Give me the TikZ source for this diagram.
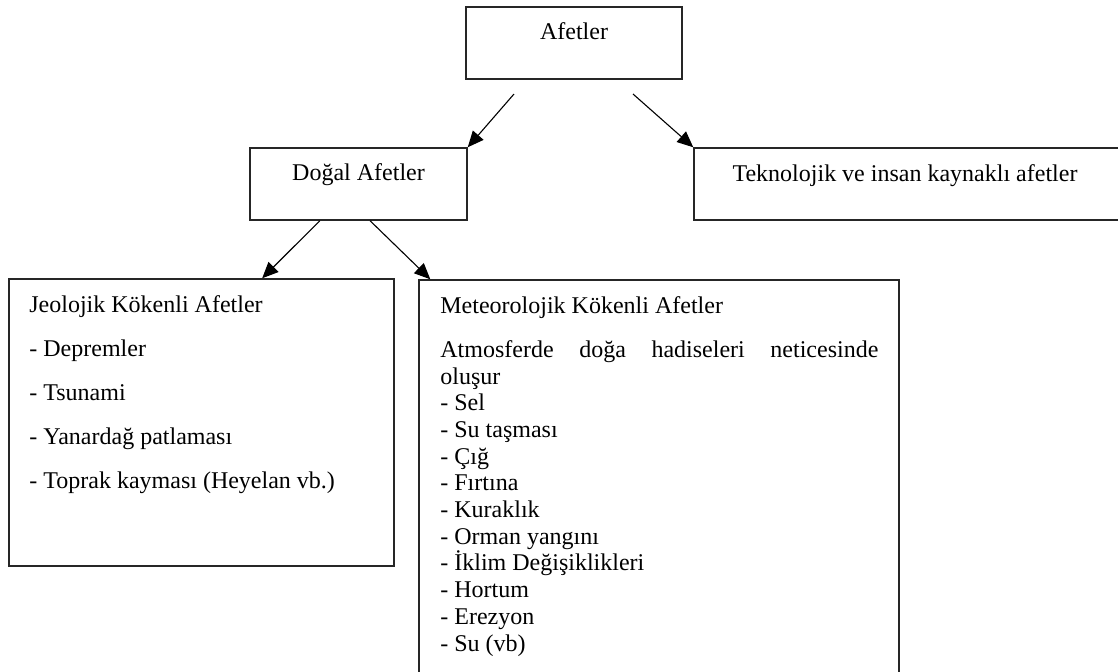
\documentclass[tikz,border=0pt]{standalone}
\usepackage{fontspec}
\setmainfont{Liberation Serif}
\usetikzlibrary{arrows.meta,calc,fit}

\tikzset{
  box/.style={draw=black!85, line width=0.75pt, inner sep=0pt},
  lbl/.style={inner sep=0pt, font=\fontsize{12}{14}\selectfont},
  arr/.style={-{Triangle[length=8pt,width=7pt]}, line width=0.55pt},
}

\begin{document}
\begin{tikzpicture}[x=0.5pt,y=-0.5pt]
\clip (0,0) rectangle (1118,671);
\fill[white] (0,0) rectangle (1118,671);
% boxes
\node[box, fit={(466,7) (682,79)}] (afet) {};
\node[box, fit={(250,148) (467,220)}] (dogal) {};
\node[box, fit={(694,148) (1124,220)}] (tekno) {};
\node[box, fit={(9,279) (394,566)}] (jeo) {};
\node[box, fit={(419,280) (899,700)}] (meteo) {};
% titles
\node[lbl, anchor=base] (afet-t) at ([yshift=-16.5pt]afet.north) {Afetler};
\node[lbl, anchor=base] (dogal-t) at ([yshift=-16.5pt]dogal.north) {Doğal Afetler};
\node[lbl, anchor=base] (tekno-t) at (905,181) {Teknolojik ve insan kaynaklı afetler};
% jeolojik
\node[lbl, anchor=base west] (jeo-t) at (29,312) {Jeolojik Kökenli Afetler};
\foreach \item [count=\i] in {Depremler, Tsunami, Yanardağ patlaması, Toprak kayması (Heyelan vb.)}
  \node[lbl, anchor=base west] (jeo-\i) at (29,{312+44*\i}) {- \item};
% meteorolojik
\node[lbl, anchor=base west] (meteo-t) at (440,313) {Meteorolojik Kökenli Afetler};
\node[lbl, anchor=base west] (meteo-a) at (440,357) {\makebox[219pt][s]{Atmosferde doğa hadiseleri neticesinde}};
\node[lbl, anchor=base west] (meteo-b) at (440,384) {oluşur};
\foreach \item [count=\i] in {Sel, Su taşması, Çığ, Fırtına, Kuraklık, Orman yangını, İklim Değişiklikleri, Hortum, Erezyon, Su (vb)}
  \node[lbl, anchor=base west] (meteo-\i) at (440,{384+26.7*\i}) {- \item};
% arrows
\coordinate (a1) at (514,94);
\coordinate (a2) at (633,94);
\draw[arr] (a1) -- (dogal.north east);
\draw[arr] (a2) -- (tekno.north west);
\draw[arr] ($(dogal.south west)!0.323!(dogal.south east)$) -- ($(jeo.north west)!0.657!(jeo.north east)$);
\draw[arr] ($(dogal.south west)!0.553!(dogal.south east)$) -- ($(meteo.north west)!0.025!(meteo.north east)$);
\end{tikzpicture}
\end{document}
